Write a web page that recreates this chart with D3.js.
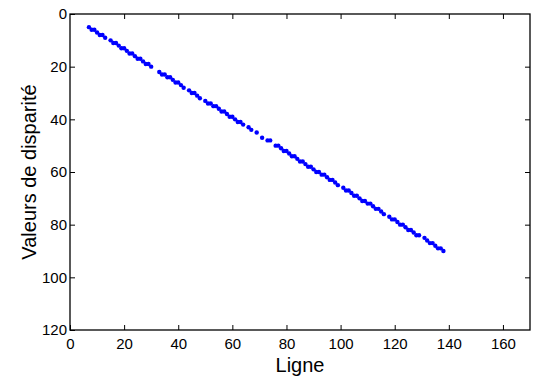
<!DOCTYPE html>
<html>
<head>
<meta charset="utf-8">
<script src="https://cdn.jsdelivr.net/npm/d3@7"></script>
<style>
  body { margin: 0; background: #fff; }
  svg { display: block; font-family: "Liberation Sans", Arial, sans-serif; }
</style>
</head>
<body>
<svg id="chart" width="534" height="378"></svg>
<script>
// row index (Ligne) and disparity value
const ligne = [
    7, 8, 9, 10, 11, 12, 13, 15, 16, 17, 18, 19, 20, 21, 22, 23, 24, 25, 26, 27, 28, 29, 30,
    33, 34, 35, 36, 37, 38, 39, 40, 41, 42, 44, 45, 46, 47, 48, 50, 51, 52, 53, 54, 55, 56,
    57, 58, 59, 60, 61, 62, 63, 64, 66, 67, 69, 71, 73, 74, 76, 77, 78, 79, 80, 81, 82, 83,
    84, 85, 86, 87, 88, 89, 90, 91, 92, 93, 94, 95, 96, 97, 98, 99, 101, 102, 103, 104, 105,
    106, 107, 108, 109, 110, 111, 112, 113, 114, 115, 116, 118, 119, 120, 121, 122, 123, 124,
    125, 126, 127, 128, 129, 131, 132, 133, 134, 135, 136, 137, 138
];
const disparite = [
    5, 6, 6, 7, 8, 8, 9, 10, 11, 11, 12, 13, 13, 14, 15, 15, 16, 17, 17, 18, 19, 19, 20,
    22, 23, 23, 24, 24, 25, 26, 26, 27, 28, 29, 30, 30, 31, 32, 33, 34, 34, 35, 35, 36, 37,
    37, 38, 39, 39, 40, 41, 41, 42, 43, 44, 45, 47, 48, 48, 50, 50, 51, 52, 52, 53, 54, 54,
    55, 56, 56, 57, 58, 58, 59, 60, 60, 61, 61, 62, 63, 63, 64, 65, 66, 67, 67, 68, 69,
    69, 70, 71, 71, 72, 72, 73, 74, 74, 75, 76, 77, 78, 78, 79, 80, 80, 81,
    82, 82, 83, 84, 84, 85, 86, 87, 87, 88, 89, 89, 90
];
const xTicks = [0, 20, 40, 60, 80, 100, 120, 140, 160];
const yTicks = [0, 20, 40, 60, 80, 100, 120];

const mLeft = 70, mRight = 530, mTop = 14, mBottom = 330;
const tickLen = 5;

const svg = d3.select("#chart");

const x = d3.scaleLinear().domain([0, 170]).range([mLeft, mRight]);
const y = d3.scaleLinear().domain([0, 120]).range([mTop, mBottom]);

// points
svg.append("g")
    .selectAll("circle")
    .data(ligne.map((l, i) => [l, disparite[i]]))
    .join("circle")
    .attr("cx", d => x(d[0]))
    .attr("cy", d => y(d[1]))
    .attr("r", 2.2)
    .attr("fill", "#0000ff");

// axes with inward ticks on all four sides
function styleAxis(g) {
    g.select(".domain").remove();
    g.selectAll("line").attr("stroke", "#000").attr("stroke-width", 1);
    g.selectAll("text").attr("fill", "#000").style("font-size", "15px");
}

svg.append("g")
    .attr("transform", `translate(0,${mBottom})`)
    .call(d3.axisBottom(x).tickValues(xTicks).tickSize(-tickLen).tickPadding(8))
    .call(styleAxis);

svg.append("g")
    .attr("transform", `translate(0,${mTop})`)
    .call(d3.axisTop(x).tickValues(xTicks.slice(1)).tickSize(-tickLen).tickFormat(""))
    .call(styleAxis);

svg.append("g")
    .attr("transform", `translate(${mLeft},0)`)
    .call(d3.axisLeft(y).tickValues(yTicks).tickSize(-tickLen).tickPadding(3))
    .call(styleAxis);

svg.append("g")
    .attr("transform", `translate(${mRight},0)`)
    .call(d3.axisRight(y).tickValues(yTicks.slice(1, -1)).tickSize(-tickLen).tickFormat(""))
    .call(styleAxis);

// box
svg.append("rect")
    .attr("x", mLeft)
    .attr("y", mTop)
    .attr("width", mRight - mLeft)
    .attr("height", mBottom - mTop)
    .attr("fill", "none")
    .attr("stroke", "#000")
    .attr("stroke-width", 1.3);

// labels
svg.append("text")
    .attr("x", (mLeft + mRight) / 2)
    .attr("y", 372)
    .attr("text-anchor", "middle")
    .style("font-size", "20px")
    .text("Ligne");

svg.append("text")
    .attr("transform", `translate(36,${(mTop + mBottom) / 2}) rotate(-90)`)
    .attr("text-anchor", "middle")
    .style("font-size", "20px")
    .text("Valeurs de disparité");
</script>
</body>
</html>
